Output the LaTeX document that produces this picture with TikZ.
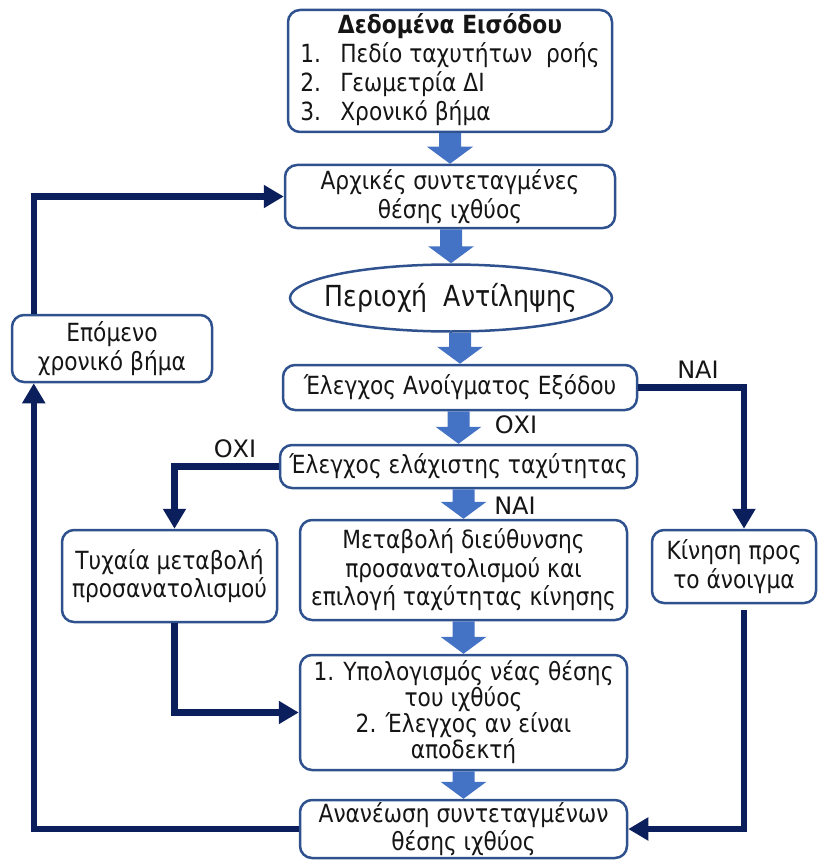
\documentclass[tikz,border=0pt]{standalone}
\usepackage{fontspec}
\setmainfont[FakeStretch=0.87]{DejaVu Sans}
\newfontfamily\lblfont{DejaVu Sans}
\usetikzlibrary{arrows.meta,calc,shapes.geometric}
\definecolor{bord}{HTML}{2F528F}
\definecolor{barr}{HTML}{4472C4}
\definecolor{navy}{HTML}{0B1F5C}
\definecolor{txt}{HTML}{151515}
\newcommand\blk[2]{\fill[barr] ($(#1.south -| #2.north)+(-11,0)$) -- ($(#2.north)+(-11,-17)$) -- ($(#2.north)+(-23,-17)$) -- (#2.north) -- ($(#2.north)+(23,-17)$) -- ($(#2.north)+(11,-17)$) -- ($(#1.south -| #2.north)+(11,0)$) -- cycle;}
\begin{document}
\begin{tikzpicture}[x=1pt,y=-1pt,
 box/.style={draw=bord,line width=2.5pt,rounded corners=12pt,fill=white,align=center,inner sep=0pt,text=txt,font=\fontsize{25}{28.5}\selectfont},
 oval/.style={ellipse,draw=bord,line width=2.5pt,fill=white,inner sep=0pt,text=txt,font=\fontsize{29}{30}\selectfont},
 conn/.style={draw=navy,line width=6.5pt,-{Triangle[length=20pt,width=22pt]}},
 lbl/.style={text=txt,font=\lblfont\fontsize{24}{26}\selectfont,inner sep=0pt}]
\useasboundingbox (0,0) rectangle (821,861);
% nodes
\node[box,minimum width=324pt,minimum height=122pt,font=\fontsize{25}{29}\selectfont] (inp) at (450,71)
 {\begin{tabular}{@{}l@{}l@{}}
 \multicolumn{2}{c}{\bfseries Δεδομένα Εισόδου}\\
 \makebox[40pt][l]{1.}&Πεδίο ταχυτήτων~ ροής\\
 \makebox[40pt][l]{2.}&Γεωμετρία ΔΙ\\
 \makebox[40pt][l]{3.}&Χρονικό βήμα
 \end{tabular}};
\node[box,minimum width=330pt,minimum height=63pt] (init) at (450,196.5) {Αρχικές συντεταγμένες\\θέσης ιχθύος};
\node[oval,minimum width=322pt,minimum height=67pt] (perc) at (451,298) {\makebox[0pt]{Περιοχή~ Αντίληψης}};
\node[box,minimum width=354pt,minimum height=45pt] (exitchk) at (460,387.5) {Έλεγχος Ανοίγματος Εξόδου};
\node[box,minimum width=357pt,minimum height=43pt] (minchk) at (458.5,466.5) {Έλεγχος ελάχιστης ταχύτητας};
\node[box,minimum width=327pt,minimum height=100pt] (chg) at (463.5,570) {Μεταβολή διεύθυνσης\\προσανατολισμού και\\επιλογή ταχύτητας κίνησης};
\node[box,minimum width=327pt,minimum height=115pt,font=\fontsize{25}{26}\selectfont] (calc) at (463.5,712.5) {1. Υπολογισμός νέας θέσης\\του ιχθύος\\2. Έλεγχος αν είναι\\αποδεκτή};
\node[box,minimum width=327pt,minimum height=58pt] (upd) at (463.5,829) {Ανανέωση συντεταγμένων\\θέσης ιχθύος};
\node[box,minimum width=200pt,minimum height=67pt] (next) at (112,348.5) {Επόμενο\\χρονικό βήμα};
\node[box,minimum width=215pt,minimum height=92pt] (rand) at (169.5,576) {Τυχαία μεταβολή\\προσανατολισμού};
\node[box,minimum width=164pt,minimum height=73pt] (move) at (734,566.5) {Κίνηση προς\\το άνοιγμα};
% block arrows
\blk{inp}{init}
\blk{init}{perc}
\blk{perc}{exitchk}
\blk{exitchk}{minchk}
\blk{minchk}{chg}
\blk{chg}{calc}
\blk{calc}{upd}
% connectors
\draw[conn] ($(next.north west)+(23,0)$) |- (init.west);
\draw[conn] (upd.west) -| ($(next.south west)+(23,0)$);
\draw[conn] (exitchk.east) -| ($(move.north)+(10,0)$);
\coordinate (mvs) at ($(move.south)+(10,6)$);
\draw[conn] (mvs) |- (upd.east);
\draw[conn] (minchk.west) -| ($(rand.north)+(5,0)$);
\draw[conn] ($(rand.south)+(5,0)$) |- (calc.west);
% labels
\node[lbl] (yes1) at (698,370) {ΝΑΙ};
\node[lbl] (no1) at (516,425) {ΟΧΙ};
\node[lbl] (no2) at (235,449) {ΟΧΙ};
\node[lbl] (yes2) at (515,506) {ΝΑΙ};
\end{tikzpicture}
\end{document}
